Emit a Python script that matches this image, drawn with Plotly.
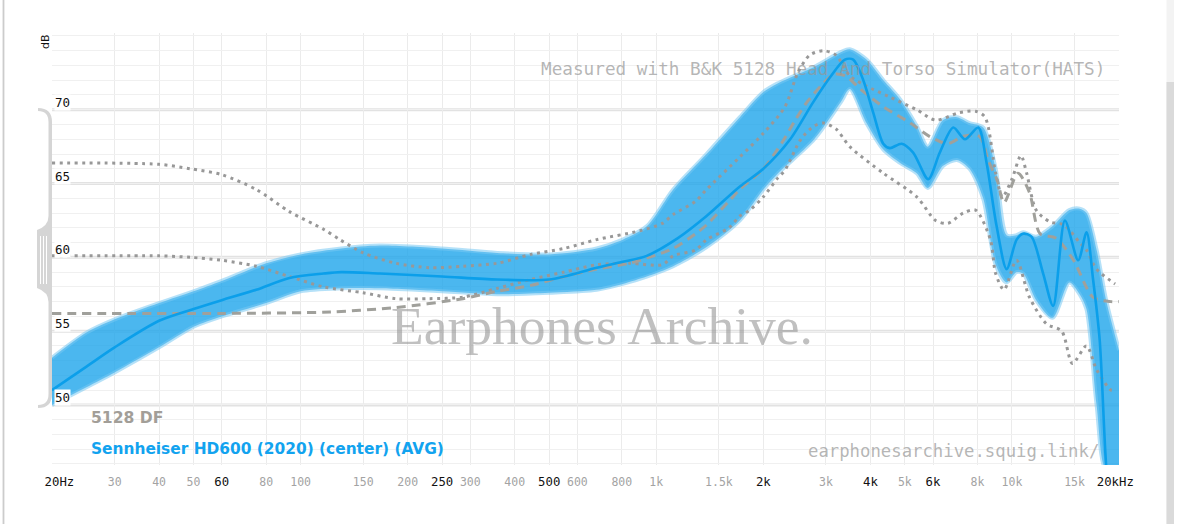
import numpy as np
import plotly.graph_objects as go

# ---------------- data ----------------
avg_freq = [20, 25, 30, 40, 50, 60, 75, 93, 116, 130, 167, 250, 357, 500, 680, 805, 940, 1150, 1385,
            1718, 2000, 2380, 2760, 3080, 3390, 3580, 3820, 4074, 4347, 4537, 4897, 5276, 5815, 6270,
            6839, 7379, 8040, 8488, 9057, 9664, 10310, 10760, 11350, 12240, 13060, 14090, 15360, 16210,
            16910, 17650, 18440, 19000]
avg_db = [51.0, 52.6, 53.9, 55.7, 56.5, 57.1, 57.8, 58.6, 58.9, 59.0, 58.9, 58.7, 58.5, 58.5, 59.3,
          59.7, 60.1, 61.3, 62.8, 64.8, 66.0, 68.0, 70.5, 72.2, 73.4, 73.4, 72.0, 69.8, 67.7, 67.4,
          67.7, 67.1, 65.3, 67.1, 68.8, 68.0, 68.8, 66.4, 62.1, 59.2, 61.2, 61.6, 61.4, 58.9, 56.7,
          62.5, 59.8, 61.7, 58.5, 54.4, 45.6, 43.0]

band_freq = [20, 25, 30, 40, 50, 60, 80, 100, 130, 167, 250, 357, 500, 680, 805, 940, 1116, 1385, 1718,
             2000, 2200, 2780, 3300, 3500, 3900, 4350, 4850, 5400, 5800, 6400, 7000, 7600, 8300, 9000,
             9660, 10300, 10760, 11700, 13000, 14500, 15500, 16200, 17300, 18400, 20000]
band_hi = [53.2, 54.9, 55.8, 56.9, 57.7, 58.4, 59.6, 60.2, 60.6, 60.8, 60.6, 60.3, 60.2, 60.6, 61.2,
           62.1, 64.6, 67.0, 69.5, 71.2, 71.8, 72.9, 73.9, 74.1, 73.4, 72.0, 70.7, 68.9, 67.5, 69.3,
           69.5, 69.1, 68.8, 66.0, 61.5, 61.5, 61.7, 61.4, 62.1, 63.2, 63.3, 63.0, 60.5, 57.1, 53.7]
band_lo = [50.0, 51.2, 52.2, 53.9, 55.3, 56.0, 56.9, 57.7, 57.9, 57.9, 57.7, 57.5, 57.6, 57.8, 58.2,
           58.7, 59.4, 60.7, 62.5, 64.6, 65.7, 68.0, 70.5, 71.4, 69.1, 67.3, 66.4, 65.7, 64.7, 66.2,
           66.6, 66.0, 64.0, 59.5, 58.3, 59.0, 58.9, 57.1, 55.9, 58.3, 57.5, 56.5, 50.0, 45.6, 45.8]

df_freq = [20, 60, 121, 185, 286, 357, 444, 550, 680, 840, 1040, 1116, 1290, 1385, 1600, 1718, 2000,
           2260, 2460, 2650, 2900, 3150, 3400, 3750, 4350, 5180, 5860, 6600, 7300, 8100, 8600, 9100,
           9500, 10400, 11200, 12000, 13300, 14900, 16900, 19000, 20000]
df_db = [56.2, 56.2, 56.3, 56.6, 57.2, 57.7, 58.1, 58.7, 59.2, 59.6, 60.3, 60.6, 61.6, 62.2, 63.8,
         64.6, 66.0, 67.8, 69.3, 70.5, 71.6, 72.4, 72.3, 71.4, 70.2, 69.1, 68.2, 67.7, 68.2, 68.2,
         66.5, 65.2, 63.7, 65.7, 64.4, 61.6, 61.3, 59.8, 57.3, 57.0, 57.0]

up_freq = [20, 40, 49, 60, 75, 93, 116, 129, 150, 185, 230, 286, 357, 444, 550, 680, 900, 1040, 1116,
           1290, 1385, 1718, 2000, 2300, 2500, 2700, 2950, 3200, 3500, 3900, 4500, 5400, 6100, 7100,
           7900, 8400, 9000, 9400, 10000, 10600, 11000, 11700, 12800, 14000, 15500, 16200, 17300, 19500]
up_db = [66.4, 66.3, 66.0, 65.6, 64.6, 63.1, 61.9, 61.2, 60.3, 59.6, 59.3, 59.4, 59.6, 60.2, 60.6,
         61.2, 61.8, 62.3, 62.9, 63.8, 64.6, 66.8, 68.4, 70.2, 72.5, 73.7, 74.0, 73.7, 72.3, 71.6,
         70.9, 70.0, 69.3, 69.8, 69.9, 69.5, 65.7, 64.1, 65.3, 66.9, 65.7, 63.2, 62.4, 62.2, 61.0,
         60.5, 59.2, 58.2]

lo_freq = [20, 40, 49, 60, 75, 93, 116, 150, 185, 230, 286, 357, 444, 550, 680, 840, 1040, 1116, 1290,
           1385, 1600, 1718, 1833, 2000, 2200, 2300, 2550, 2780, 2950, 3200, 3500, 4350, 5400, 6100,
           6600, 7300, 7900, 8700, 9000, 9500, 10300, 11200, 12500, 13800, 14800, 16200, 17300,
           19000, 19600]
lo_db = [60.1, 60.1, 60.0, 59.8, 59.4, 58.7, 58.0, 57.6, 57.2, 57.2, 57.3, 57.9, 58.5, 59.0, 59.5,
         59.6, 59.5, 60.1, 60.5, 61.2, 62.0, 62.8, 63.2, 64.1, 65.4, 65.9, 68.0, 68.9, 69.1, 68.7,
         67.5, 65.7, 64.1, 62.5, 62.3, 63.0, 63.2, 61.2, 58.9, 57.8, 59.8, 57.3, 55.5, 55.0, 52.8,
         54.0, 52.4, 51.0, 51.0]

tick_vals = [20, 30, 40, 50, 60, 80, 100, 150, 200, 250, 300, 400, 500, 600, 800, 1000, 1500, 2000,
             3000, 4000, 5000, 6000, 8000, 10000, 15000, 20000]
tick_text = ["20Hz", "30", "40", "50", "60", "80", "100", "150", "200", "250", "300", "400", "500",
             "600", "800", "1k", "1.5k", "2k", "3k", "4k", "5k", "6k", "8k", "10k", "15k", "20kHz"]
major_ticks = [20, 60, 250, 500, 2000, 4000, 6000, 20000]
y_labels = [50, 55, 60, 65, 70]

legend_df = "5128 DF"
legend_hp = "Sennheiser HD600 (2020) (center) (AVG)"

# ---------------- geometry helpers (page pixels -> paper) ----------------
W, H = 1204, 524
L, R, T, B = 52, 1119, 33, 465


def px(x):
    return (x - L) / (R - L)


def py(y):
    return (B - y) / (B - T)


def path_px(cmds):
    out = []
    for c in cmds:
        if isinstance(c, str):
            out.append(c)
        else:
            out.append(f"{px(c[0]):.5f},{py(c[1]):.5f}")
    return " ".join(out)


BLUE = "#0b9fea"
GRAY_T = "#989898"
MONO = "DejaVu Sans Mono"

fig = go.Figure()

# measurement spread band
fig.add_trace(go.Scatter(x=band_freq, y=band_lo, mode="lines", line=dict(width=0, shape="spline", smoothing=0.8),
                         showlegend=False, hoverinfo="skip"))
fig.add_trace(go.Scatter(x=band_freq, y=band_hi, mode="lines", fill="tonexty",
                         fillcolor="rgba(30,165,235,0.80)",
                         line=dict(width=0, shape="spline", smoothing=0.8),
                         showlegend=False, hoverinfo="skip"))
# soft lighter rims of the band
for arr in (band_hi, band_lo):
    fig.add_trace(go.Scatter(x=band_freq, y=arr, mode="lines",
                             line=dict(color="rgba(120,200,242,0.55)", width=4, shape="spline", smoothing=0.8),
                             showlegend=False, hoverinfo="skip"))

# target bounds (dotted) and target (dashed)
for fx, fy in ((up_freq, up_db), (lo_freq, lo_db)):
    fig.add_trace(go.Scatter(x=fx, y=fy, mode="lines",
                             line=dict(color=GRAY_T, width=3, dash="3px,4.5px", shape="spline", smoothing=0.8),
                             showlegend=False, hoverinfo="skip"))
fig.add_trace(go.Scatter(x=df_freq, y=df_db, mode="lines",
                         line=dict(color="#a0a09b", width=3, dash="9px,6px", shape="spline", smoothing=0.8),
                         showlegend=False, hoverinfo="skip"))

# average
fig.add_trace(go.Scatter(x=avg_freq, y=avg_db, mode="lines",
                         line=dict(color=BLUE, width=2.6, shape="spline", smoothing=0.8),
                         showlegend=False, hoverinfo="skip"))

# ---------------- shapes ----------------
shapes = []
for v in y_labels:
    shapes.append(dict(type="line", xref="paper", yref="y", x0=0, x1=1, y0=v, y1=v,
                       line=dict(color="#e2e2e2", width=3), layer="between"))
for f in major_ticks:
    edge = f in (20, 20000)
    shapes.append(dict(type="line", xref="x", yref="paper", x0=np.log10(f), x1=np.log10(f),
                       y0=py(467) if edge else 0, y1=1,
                       line=dict(color="#c4c4c4" if edge else "#cfcfcf", width=1.5), layer="between"))

# y-scale handle at the left of the plot
handle = path_px(["M", (38, 108), "Q", (52, 108), (52, 122), "L", (52, 394), "Q", (52, 408), (38, 408),
                  "L", (38, 405), "Q", (48.5, 405), (48.5, 394), "L", (48.5, 302), "Q", (48.5, 292), (37, 288),
                  "L", (37, 230), "Q", (48.5, 226), (48.5, 216), "L", (48.5, 122), "Q", (48.5, 111), (38, 111), "Z"])
shapes.append(dict(type="path", xref="paper", yref="paper", path=handle,
                   fillcolor="#d5d5d5", line=dict(width=0), layer="above"))
for gx in (40.5, 43.5, 46.5):
    shapes.append(dict(type="line", xref="paper", yref="paper", x0=px(gx), x1=px(gx), y0=py(236), y1=py(284),
                       line=dict(color="white", width=1), layer="above"))

# page chrome: left border and scrollbar
shapes.append(dict(type="rect", xref="paper", yref="paper", x0=px(2.6), x1=px(4.4), y0=py(0), y1=py(524),
                   fillcolor="#cccccc", line=dict(width=0)))
shapes.append(dict(type="rect", xref="paper", yref="paper", x0=px(1166.5), x1=px(1174), y0=py(0), y1=py(524),
                   fillcolor="#f3f3f3", line=dict(width=0)))
shapes.append(dict(type="rect", xref="paper", yref="paper", x0=px(1166.5), x1=px(1174), y0=py(82), y1=py(524),
                   fillcolor="#dadada", line=dict(width=0)))

# ---------------- annotations ----------------
ann = []
for v in y_labels:
    ann.append(dict(xref="paper", yref="y", x=0, y=v, xanchor="left", yanchor="bottom", xshift=2, yshift=-1,
                    text=str(v), showarrow=False, bgcolor="white", borderpad=0,
                    font=dict(family=MONO, size=12.5, color="#111")))
ann.append(dict(xref="paper", yref="paper", x=0, y=1, xanchor="center", yanchor="middle", xshift=-7, yshift=-9,
                text="dB", textangle=-90, showarrow=False, font=dict(family="DejaVu Sans", size=11, color="#111")))
ann.append(dict(xref="paper", yref="paper", x=px(602), y=py(326), xanchor="center", yanchor="middle",
                text="Earphones Archive.", showarrow=False,
                font=dict(family="Liberation Serif", size=53.5, color="rgba(150,150,150,0.6)")))
ann.append(dict(xref="paper", yref="paper", x=px(1107), y=py(69), xanchor="right", yanchor="middle",
                text="Measured with B&K 5128 Head And Torso Simulator(HATS)", showarrow=False,
                font=dict(family=MONO, size=17.7, color="rgba(150,150,150,0.7)")))
ann.append(dict(xref="paper", yref="paper", x=px(1101), y=py(451), xanchor="right", yanchor="middle",
                text="earphonesarchive.squig.link/", showarrow=False,
                font=dict(family=MONO, size=17.3, color="rgba(150,150,150,0.7)")))
ann.append(dict(xref="paper", yref="paper", x=px(89), y=py(418), xanchor="left", yanchor="middle",
                text=f"<b>{legend_df}</b>", showarrow=False,
                font=dict(family="DejaVu Sans", size=15.6, color="#a29e98")))
ann.append(dict(xref="paper", yref="paper", x=px(89), y=py(449), xanchor="left", yanchor="middle",
                text=f"<b>{legend_hp}</b>", showarrow=False,
                font=dict(family="DejaVu Sans", size=15.4, color="#12a3ef")))

ticktext_styled = []
for v, t in zip(tick_vals, tick_text):
    if v == 20:
        ticktext_styled.append("\u00a0\u00a0" + t)
    elif v == 20000:
        ticktext_styled.append(t + "\u00a0")
    elif v in major_ticks:
        ticktext_styled.append(t)
    else:
        ticktext_styled.append(f"<span style='fill:#a3a3a3;font-size:11.5px'>{t}</span>")

fig.update_layout(
    width=W, height=H,
    margin=dict(l=L, r=W - R, t=T, b=H - B, pad=0),
    paper_bgcolor="white", plot_bgcolor="white",
    showlegend=False,
    xaxis=dict(type="log", range=[np.log10(20), np.log10(20000)], tickmode="array",
               tickvals=tick_vals, ticktext=ticktext_styled, showgrid=True, gridcolor="#ebebeb",
               gridwidth=1, zeroline=False, showline=False, ticks="", ticklabelstandoff=8,
               tickfont=dict(family=MONO, size=12.3, color="#111")),
    yaxis=dict(range=[45.93, 75.2], dtick=1, tick0=0, showgrid=True, gridcolor="#f0f0f0",
               gridwidth=1, zeroline=False, showline=False, showticklabels=False, ticks=""),
    shapes=shapes, annotations=ann,
)

fig.write_html("out.html", config={"displayModeBar": False},
               post_script="document.body.style.margin='0px';document.body.style.overflow='hidden';")
